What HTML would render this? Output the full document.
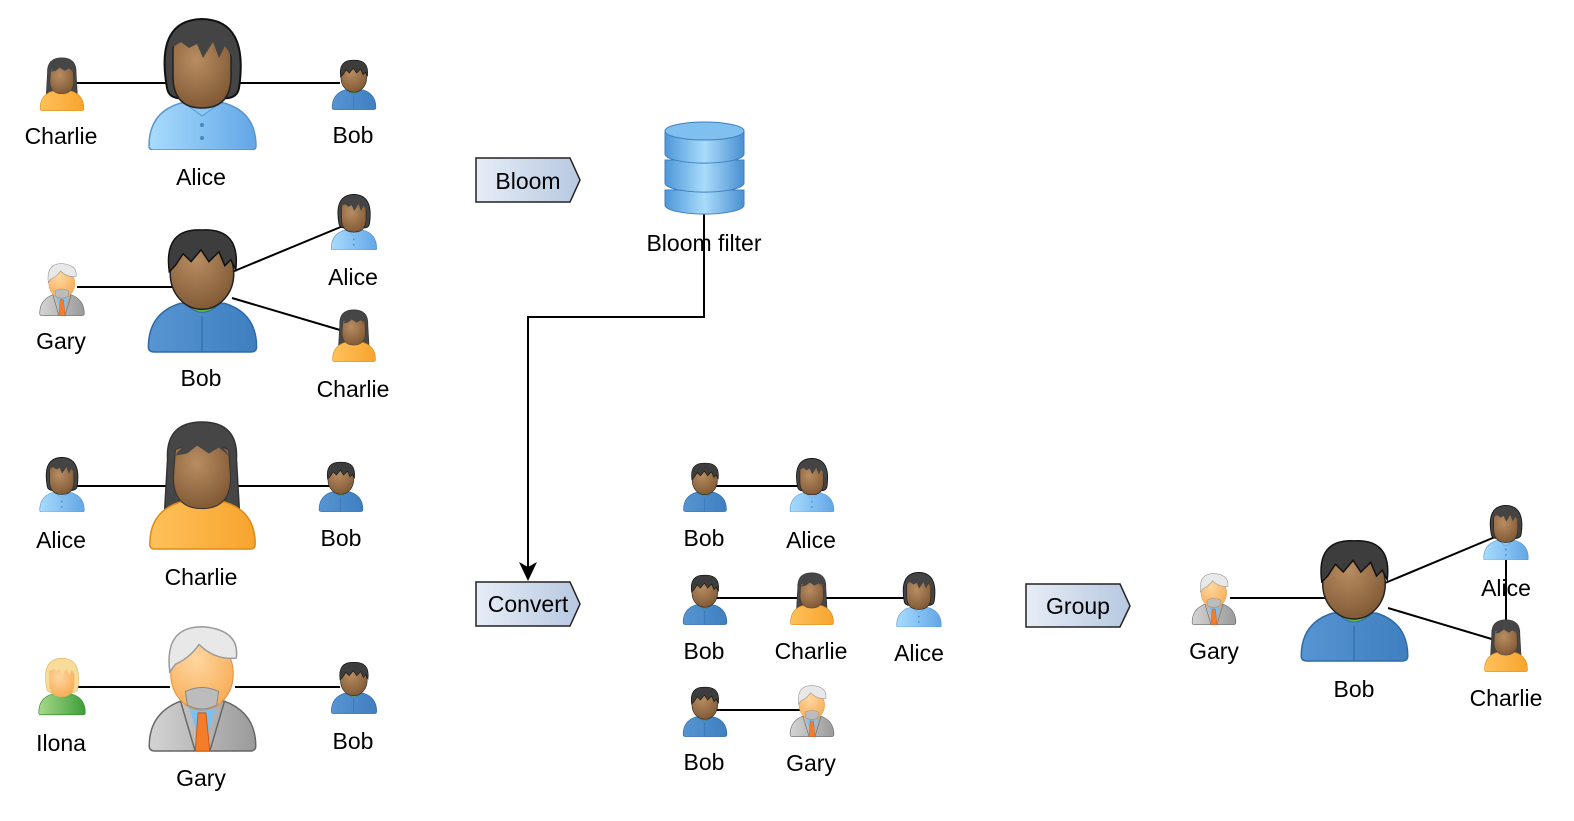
<!DOCTYPE html>
<html><head><meta charset="utf-8"><style>
html,body{margin:0;padding:0;background:#fff;}
text{font-family:"Liberation Sans","DejaVu Sans",sans-serif;font-size:23px;fill:#000;text-anchor:middle;}
</style></head><body>
<svg width="1574" height="816" viewBox="0 0 1574 816" xmlns="http://www.w3.org/2000/svg">
<defs>
<radialGradient id="skin" cx="0.4" cy="0.3" r="0.8"><stop offset="0" stop-color="#b98d62"/><stop offset="1" stop-color="#7a5430"/></radialGradient>
<radialGradient id="skinL" cx="0.4" cy="0.3" r="0.8"><stop offset="0" stop-color="#ffd7a0"/><stop offset="1" stop-color="#f6a850"/></radialGradient>
<linearGradient id="blueS" x1="0" x2="1"><stop offset="0" stop-color="#a8dcff"/><stop offset="1" stop-color="#62a6e6"/></linearGradient>
<linearGradient id="blueH" x1="0" x2="1"><stop offset="0" stop-color="#5794d2"/><stop offset="1" stop-color="#3f7fc0"/></linearGradient>
<linearGradient id="orange" x1="0" x2="1"><stop offset="0" stop-color="#ffc15a"/><stop offset="1" stop-color="#f7a42e"/></linearGradient>
<linearGradient id="gray" x1="0" x2="1"><stop offset="0" stop-color="#d4d4d4"/><stop offset="1" stop-color="#9a9a9a"/></linearGradient>
<linearGradient id="green" x1="0" x2="1"><stop offset="0" stop-color="#a6d98a"/><stop offset="1" stop-color="#3f9e3a"/></linearGradient>
<linearGradient id="db" x1="0" x2="1"><stop offset="0" stop-color="#4f97d8"/><stop offset="0.5" stop-color="#a9dcfb"/><stop offset="1" stop-color="#4a8fd2"/></linearGradient>
<linearGradient id="tag" x1="0" x2="1"><stop offset="0" stop-color="#e6edf7"/><stop offset="1" stop-color="#b7c8e0"/></linearGradient>

<symbol id="alice" viewBox="0 0 115 132">
 <path d="M4,128 Q4,92 40,84 L75,84 Q111,92 111,128 Q111,132 106,132 L9,132 Q4,132 4,128Z" fill="url(#blueS)" stroke="#5a95d0" stroke-width="1.5"/>
 <path d="M38,84 L57,98 L77,84" fill="#8cc8f5" stroke="#5a95d0"/>
 <circle cx="57" cy="107" r="2" fill="#4a86c6"/><circle cx="57" cy="120" r="2" fill="#4a86c6"/>
 <path d="M22,70 Q10,2 57,1 Q104,2 94,70 Q92,82 75,80 L40,80 Q24,82 22,70Z" fill="#444" stroke="#111" stroke-width="2"/>
 <path d="M28,30 Q30,20 57,22 Q86,20 86,40 L86,58 Q86,90 57,90 Q28,90 28,58Z" fill="url(#skin)" stroke="#222" stroke-width="1.5"/>
 <path d="M26,30 Q30,10 60,12 Q88,12 88,40 L80,28 L74,40 L68,24 L58,40 L52,26 L44,30 L36,24Z" fill="#444"/>
</symbol>
<symbol id="bob" viewBox="0 0 115 132">
 <path d="M3,126 Q3,92 35,82 L80,82 Q112,92 112,126 Q112,131 106,131 L9,131 Q3,131 3,126Z" fill="url(#blueH)" stroke="#2f6aa8" stroke-width="1.5"/>
 <path d="M40,82 Q57,100 75,82" fill="#5fc04a" stroke="#2f6aa8"/>
 <path d="M57,95 L57,131" stroke="#2f6aa8" stroke-width="1.2"/>
 <ellipse cx="57" cy="52" rx="32" ry="36" fill="url(#skin)" stroke="#222" stroke-width="1.5"/>
 <path d="M24,50 Q18,6 57,8 Q96,6 91,48 L86,38 L80,44 L74,30 L64,40 L56,28 L46,40 L38,32 L30,44Z" fill="#3d3d3d" stroke="#111" stroke-width="1.5"/>
</symbol>
<symbol id="charlie" viewBox="0 0 115 132">
 <path d="M22,40 Q20,2 57,2 Q94,2 92,40 L96,110 L18,110Z" fill="#464646" stroke="#333" stroke-width="1.5"/>
 <path d="M4,126 Q4,90 40,82 L75,82 Q111,90 111,126 Q111,131 106,131 L9,131 Q4,131 4,126Z" fill="url(#orange)" stroke="#e08a10" stroke-width="1.5"/>
 <path d="M30,30 Q57,18 84,30 L86,58 Q86,90 57,90 Q28,90 28,58Z" fill="url(#skin)" stroke="#333" stroke-width="1"/>
 <path d="M30,36 Q40,20 57,20 Q76,20 84,36 L74,28 L64,34 L52,26 L42,34Z" fill="#464646"/>
</symbol>
<symbol id="gary" viewBox="0 0 115 132">
 <path d="M3,126 Q3,92 35,80 L80,80 Q112,92 112,126 Q112,131 106,131 L9,131 Q3,131 3,126Z" fill="url(#gray)" stroke="#666" stroke-width="1.5"/>
 <path d="M42,80 L57,131 L73,80Z" fill="#7cc0f0"/>
 <path d="M53,92 L61,92 L65,131 L50,131Z" fill="#f57c2a" stroke="#c95a10"/>
 <path d="M35,80 L50,131 M80,80 L65,131" stroke="#666" stroke-width="1.5" fill="none"/>
 <ellipse cx="57" cy="52" rx="32" ry="37" fill="url(#skinL)" stroke="#e09040" stroke-width="1"/>
 <path d="M40,70 Q57,62 74,70 L72,84 Q57,92 42,84Z" fill="#bcbcbc" stroke="#888"/>
 <path d="M24,50 Q18,2 60,4 Q96,8 92,36 Q70,38 54,22 Q44,36 30,42Z" fill="#e8e8e8" stroke="#999" stroke-width="1.5"/>
</symbol>
<symbol id="ilona" viewBox="0 0 115 132">
 <path d="M4,126 Q4,90 40,82 L75,82 Q111,90 111,126 Q111,131 106,131 L9,131 Q4,131 4,126Z" fill="url(#green)" stroke="#3a8a30" stroke-width="1.5"/>
 <path d="M22,70 Q10,2 57,1 Q104,2 94,70 Q92,82 75,80 L40,80 Q24,82 22,70Z" fill="#f7dc9a" stroke="#e0b860" stroke-width="1.5"/>
 <path d="M28,30 Q57,20 86,30 L86,58 Q86,90 57,90 Q28,90 28,58Z" fill="url(#skinL)"/>
 <path d="M26,30 Q30,10 60,12 Q88,12 88,40 L80,28 L74,40 L68,24 L58,40 L52,26 L44,30 L36,24Z" fill="#f7dc9a"/>
</symbol>
</defs>

<g stroke="#000" stroke-width="2" fill="none">
 <line x1="77" y1="83" x2="170" y2="83"/><line x1="240" y1="83" x2="340" y2="83"/>
 <line x1="77" y1="287" x2="172" y2="287"/><line x1="232" y1="272" x2="343" y2="226"/><line x1="232" y1="298" x2="340" y2="330"/>
 <line x1="77" y1="486" x2="170" y2="486"/><line x1="235" y1="486" x2="330" y2="486"/>
 <line x1="77" y1="687" x2="170" y2="687"/><line x1="235" y1="687" x2="340" y2="687"/>
 <polyline points="704,212 704,317 528,317 528,568"/>
 <line x1="710" y1="486" x2="805" y2="486"/>
 <line x1="710" y1="598" x2="920" y2="598"/>
 <line x1="710" y1="710" x2="805" y2="710"/>
 <line x1="1230" y1="598" x2="1325" y2="598"/><line x1="1385" y1="583" x2="1495" y2="537"/><line x1="1388" y1="608" x2="1495" y2="640"/>
 <line x1="1506" y1="555" x2="1506" y2="625"/>
</g>
<path d="M519,562 L528,581 L537,562 L528,567Z" fill="#000"/>

<!-- group 1 -->
<use href="#alice" x="145" y="18" width="115" height="132"/>
<use href="#charlie" x="37" y="57" width="50" height="54"/>
<use href="#bob" x="329" y="57" width="50" height="53"/>
<text x="61" y="144">Charlie</text><text x="201" y="185">Alice</text><text x="353" y="143">Bob</text>
<!-- group 2 -->
<use href="#bob" x="145" y="222" width="115" height="131"/>
<use href="#gary" x="37" y="262" width="50" height="54"/>
<use href="#alice" x="329" y="194" width="50" height="56"/>
<use href="#charlie" x="329" y="309" width="50" height="53"/>
<text x="61" y="349">Gary</text><text x="201" y="386">Bob</text><text x="353" y="285">Alice</text><text x="353" y="397">Charlie</text>
<!-- group 3 -->
<use href="#charlie" x="145" y="420" width="115" height="130"/>
<use href="#alice" x="37" y="457" width="50" height="55"/>
<use href="#bob" x="316" y="459" width="50" height="53"/>
<text x="61" y="548">Alice</text><text x="201" y="585">Charlie</text><text x="341" y="546">Bob</text>
<!-- group 4 -->
<use href="#gary" x="145" y="623" width="115" height="129"/>
<use href="#ilona" x="37" y="657" width="50" height="59"/>
<use href="#bob" x="329" y="659" width="50" height="55"/>
<text x="61" y="751">Ilona</text><text x="201" y="786">Gary</text><text x="353" y="749">Bob</text>

<!-- tags -->
<g stroke="#222" stroke-width="1.5" fill="url(#tag)">
 <path d="M476,158 L570,158 L580,180 L570,202 L476,202Z"/>
 <path d="M476,582 L570,582 L580,604 L570,626 L476,626Z"/>
 <path d="M1026,584 L1120,584 L1130,606 L1120,627 L1026,627Z"/>
</g>
<text x="528" y="189">Bloom</text><text x="528" y="612">Convert</text><text x="1078" y="614">Group</text>

<!-- database -->
<g stroke="#3f7fc0" stroke-width="1">
 <path d="M665,190 L665,205 A39,9 0 0 0 744,205 L744,190Z" fill="url(#db)"/>
 <path d="M665,160 L665,183 A39,9 0 0 0 744,183 L744,160Z" fill="url(#db)"/>
 <path d="M665,131 L665,154 A39,9 0 0 0 744,154 L744,131Z" fill="url(#db)"/>
 <ellipse cx="704.5" cy="131" rx="39.5" ry="9" fill="#7fc0f0"/>
</g>
<text x="704" y="251">Bloom filter</text>

<!-- middle -->
<use href="#bob" x="680" y="460" width="50" height="52"/>
<use href="#alice" x="787" y="458" width="50" height="54"/>
<text x="704" y="546">Bob</text><text x="811" y="548">Alice</text>
<use href="#bob" x="680" y="572" width="50" height="53"/>
<use href="#charlie" x="787" y="572" width="50" height="53"/>
<use href="#alice" x="894" y="572" width="50" height="55"/>
<text x="704" y="659">Bob</text><text x="811" y="659">Charlie</text><text x="919" y="661">Alice</text>
<use href="#bob" x="680" y="684" width="50" height="53"/>
<use href="#gary" x="787" y="684" width="50" height="53"/>
<text x="704" y="770">Bob</text><text x="811" y="771">Gary</text>

<!-- right -->
<use href="#gary" x="1189" y="572" width="50" height="53"/>
<use href="#bob" x="1298" y="533" width="113" height="129"/>
<use href="#alice" x="1481" y="505" width="50" height="55"/>
<use href="#charlie" x="1481" y="619" width="50" height="53"/>
<text x="1214" y="659">Gary</text><text x="1354" y="697">Bob</text><text x="1506" y="596">Alice</text><text x="1506" y="706">Charlie</text>
</svg>
</body></html>
